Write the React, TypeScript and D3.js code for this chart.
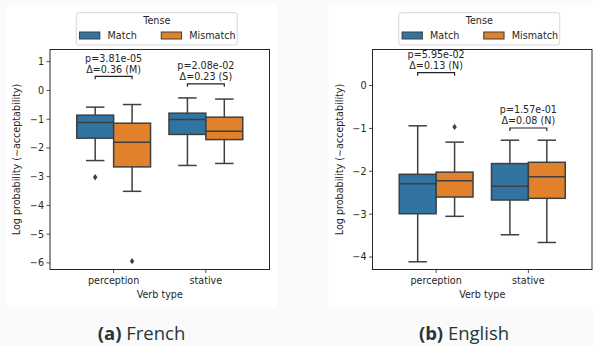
import React from 'react'
import { scaleLinear, range as d3range } from 'd3'

// categories / hues
const categories = ['perception', 'stative']
const hues = ['Match', 'Mismatch']
const hueColors = ['#3274a1', '#e1812c']

// box stats: [lowWhisker, q1, median, q3, highWhisker], order: perception-Match, perception-Mismatch, stative-Match, stative-Mismatch
const frenchBoxes = [
  [-2.44, -1.66, -1.115, -0.86, -0.58],
  [-3.51, -2.66, -1.8, -1.14, -0.49],
  [-2.61, -1.53, -1.01, -0.79, -0.26],
  [-2.54, -1.71, -1.42, -0.93, -0.3],
]
const frenchOutliers = [[-3.02], [-5.94], [], []]
const frenchPvals = ['p=3.81e-05', 'p=2.08e-02']
const frenchDeltas = ['Δ=0.36 (M)', 'Δ=0.23 (S)']
const frenchBracket = [0.49, 0.23]
const frenchTicks = d3range(-6, 2)

const englishBoxes = [
  [-4.11, -2.99, -2.29, -2.07, -0.94],
  [-3.05, -2.6, -2.22, -2.02, -1.32],
  [-3.48, -2.67, -2.35, -1.82, -1.275],
  [-3.66, -2.63, -2.13, -1.79, -1.275],
]
const englishOutliers = [[], [-0.965], [], []]
const englishPvals = ['p=5.95e-02', 'p=1.57e-01']
const englishDeltas = ['Δ=0.13 (N)', 'Δ=0.08 (N)']
const englishBracket = [0.3, -0.99]
const englishTicks = d3range(-4, 1)

const FONT = '"DejaVu Sans", sans-serif'
const FS = 9.6
const EDGE = '#3f3f3f'

function Panel({ px, boxes, outliers, pvals, deltas, bracket, ticks, yDomain, caption, letter }) {
  const left = px + 44
  const right = left + 219.5
  const top = 49.5
  const bottom = 269.5
  const x = scaleLinear().domain([-0.69, 1.69]).range([left, right])
  const y = scaleLinear().domain(yDomain).range([bottom, top])
  const unit = x(1) - x(0)
  const bw = (unit * 0.8) / 2
  const cx = (left + right) / 2
  const legW = 161
  const legX = cx - 3 - legW / 2

  const minus = (v: number) => (v < 0 ? '\u2212' + Math.abs(v) : String(v))

  return (
    <g>
      <rect x={px} y={5} width={271} height={302} fill="#ffffff" />
      {/* boxes */}
      {boxes.map((b, i) => {
        const ci = Math.floor(i / 2)
        const hi = i % 2
        const x0 = x(ci) - bw + hi * bw
        const mid = x0 + bw / 2
        const [lo, q1, med, q3, hi2] = b
        return (
          <g key={i} stroke={EDGE} strokeWidth={1.5}>
            <line x1={mid} x2={mid} y1={y(q3)} y2={y(hi2)} />
            <line x1={mid} x2={mid} y1={y(q1)} y2={y(lo)} />
            <line x1={mid - bw / 4} x2={mid + bw / 4} y1={y(hi2)} y2={y(hi2)} />
            <line x1={mid - bw / 4} x2={mid + bw / 4} y1={y(lo)} y2={y(lo)} />
            <rect x={x0} y={y(q3)} width={bw} height={y(q1) - y(q3)} fill={hueColors[hi]} />
            <line x1={x0} x2={x0 + bw} y1={y(med)} y2={y(med)} />
            {outliers[i].map((o, k) => (
              <path
                key={k}
                d={`M${mid},${y(o) - 3.2}L${mid + 2.2},${y(o)}L${mid},${y(o) + 3.2}L${mid - 2.2},${y(o)}Z`}
                fill={EDGE}
                stroke="none"
              />
            ))}
          </g>
        )
      })}
      {/* frame */}
      <rect x={left} y={top} width={right - left} height={bottom - top} fill="none" stroke="#262626" strokeWidth={1} />
      {/* annotations */}
      {categories.map((c, ci) => {
        const by = y(bracket[ci])
        const a = x(ci) - bw / 2
        const b = x(ci) + bw / 2
        return (
          <g key={c}>
            <path d={`M${a},${by + 3}V${by}H${b}V${by + 3}`} fill="none" stroke="#222" strokeWidth={1.2} />
            <text x={x(ci)} y={by - 3.5} textAnchor="middle" fontFamily={FONT} fontSize={FS} fill="#262626">
              {deltas[ci]}
            </text>
            <text x={x(ci)} y={by - 14.8} textAnchor="middle" fontFamily={FONT} fontSize={FS} fill="#262626">
              {pvals[ci]}
            </text>
          </g>
        )
      })}
      {/* y ticks */}
      {ticks.map((t) => (
        <g key={t}>
          <line x1={left - 3.5} x2={left} y1={y(t)} y2={y(t)} stroke="#262626" strokeWidth={0.8} />
          <text x={left - 6} y={y(t)} dy="0.35em" textAnchor="end" fontFamily={FONT} fontSize={FS} fill="#262626">
            {minus(t)}
          </text>
        </g>
      ))}
      {/* x ticks */}
      {categories.map((c, ci) => (
        <g key={c}>
          <line x1={x(ci)} x2={x(ci)} y1={bottom} y2={bottom + 3.5} stroke="#262626" strokeWidth={0.8} />
          <text x={x(ci)} y={283.5} textAnchor="middle" fontFamily={FONT} fontSize={FS} fill="#262626">
            {c}
          </text>
        </g>
      ))}
      <text x={cx} y={297.5} textAnchor="middle" fontFamily={FONT} fontSize={FS} fill="#262626">
        Verb type
      </text>
      <text
        transform={`translate(${left - 33},${(top + bottom) / 2}) rotate(-90)`}
        textAnchor="middle"
        dy="0.35em"
        fontFamily={FONT}
        fontSize={FS}
        fill="#262626"
      >
        Log probability (∼acceptability)
      </text>
      {/* legend */}
      <g>
        <rect x={legX} y={12.7} width={legW} height={32.3} rx={2.5} fill="#fff" stroke="#d6d6d6" strokeWidth={1} />
        <text x={legX + legW / 2} y={24} textAnchor="middle" fontFamily={FONT} fontSize={FS} fill="#262626">
          Tense
        </text>
        {hues.map((h, hi) => {
          const lx = legX + 3.3 + hi * 81.7
          return (
            <g key={h}>
              <rect x={lx} y={32} width={20.3} height={7} fill={hueColors[hi]} stroke={EDGE} strokeWidth={1} />
              <text x={lx + 28} y={39} fontFamily={FONT} fontSize={FS} fill="#262626">
                {h}
              </text>
            </g>
          )
        })}
      </g>
      {/* caption */}
      <text x={px + 135.5} y={340} textAnchor="middle" fontFamily='"Open Sans", sans-serif' fontSize={18.5} fill="#23373b">
        <tspan fontWeight="bold">{letter}</tspan>
        <tspan> {caption}</tspan>
      </text>
    </g>
  )
}

export default function App() {
  return (
    <svg
      width={593}
      height={346}
      style={{ position: 'absolute', left: 0, top: 0, background: '#fafafa' }}
    >
      <rect width={593} height={346} fill="#fafafa" />
      <Panel
        px={6}
        boxes={frenchBoxes}
        outliers={frenchOutliers}
        pvals={frenchPvals}
        deltas={frenchDeltas}
        bracket={frenchBracket}
        ticks={frenchTicks}
        yDomain={[-6.23, 1.425]}
        letter="(a)"
        caption="French"
      />
      <Panel
        px={328.5}
        boxes={englishBoxes}
        outliers={englishOutliers}
        pvals={englishPvals}
        deltas={englishDeltas}
        bracket={englishBracket}
        ticks={englishTicks}
        yDomain={[-4.29, 0.84]}
        letter="(b)"
        caption="English"
      />
    </svg>
  )
}
